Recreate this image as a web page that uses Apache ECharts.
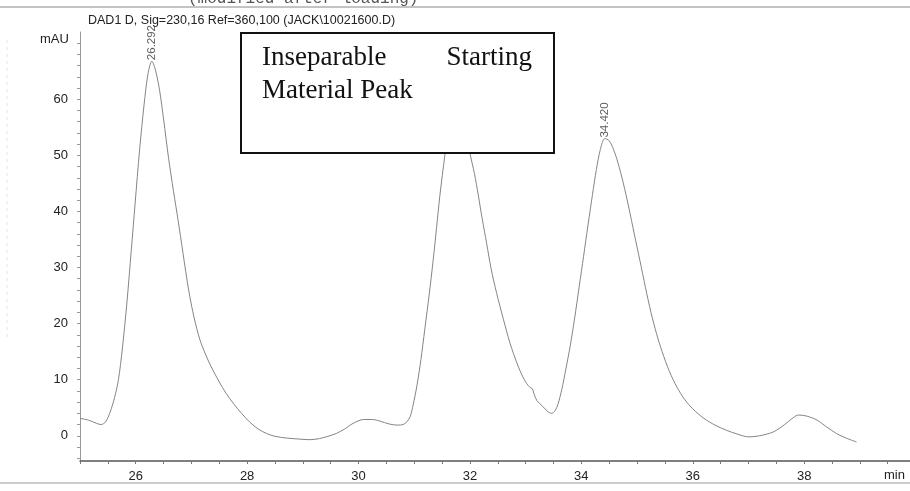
<!DOCTYPE html>
<html>
<head>
<meta charset="utf-8">
<title>DAD1 D chromatogram</title>
<script src="https://cdn.jsdelivr.net/npm/echarts@6/dist/echarts.min.js"></script>
<style>
  html, body { margin: 0; padding: 0; background: #fff; }
  #chart { width: 910px; height: 491px; }
</style>
</head>
<body>
<div id="chart"></div>
<script>
// retention time (min) and detector signal (mAU)
var times = [
  25.00, 25.15, 25.30, 25.38, 25.46, 25.54, 25.62, 25.69, 25.76, 25.84,
  25.92, 25.99, 26.07, 26.15, 26.22, 26.29, 26.36, 26.43, 26.50, 26.59,
  26.68, 26.76, 26.85, 26.95, 27.05, 27.15, 27.25, 27.35, 27.50, 27.62,
  27.75, 27.90, 28.05, 28.20, 28.35, 28.50, 28.70, 28.95, 29.13, 29.30,
  29.45, 29.60, 29.75, 29.90, 30.09, 30.25, 30.39, 30.55, 30.70, 30.80,
  30.87, 30.93, 30.98, 31.05, 31.12, 31.19, 31.27, 31.34, 31.40, 31.46,
  31.55, 31.62, 31.70, 31.77, 31.84, 31.92, 32.00, 32.08, 32.15, 32.22,
  32.30, 32.38, 32.48, 32.60, 32.72, 32.85, 32.95, 33.02, 33.08, 33.12,
  33.15, 33.20, 33.30, 33.40, 33.47, 33.53, 33.58, 33.65, 33.72, 33.80,
  33.88, 33.96, 34.04, 34.12, 34.20, 34.27, 34.34, 34.42, 34.50, 34.58,
  34.66, 34.75, 34.85, 34.95, 35.05, 35.15, 35.25, 35.35, 35.45, 35.58,
  35.72, 35.86, 36.00, 36.20, 36.40, 36.60, 36.80, 37.00, 37.20, 37.45,
  37.65, 37.80, 37.90, 38.05, 38.23, 38.40, 38.58, 38.75, 38.94
];
var signal = [
  3.1, 2.8, 2.2, 2.0, 2.5, 4.2, 6.8, 10.0, 15.5, 23.5,
  33.0, 41.5, 51.0, 59.0, 64.5, 66.8, 65.0, 61.5, 56.5, 49.5,
  43.5, 38.5, 32.5, 26.0, 21.0, 17.2, 14.6, 12.4, 9.6, 7.6,
  5.8, 4.0, 2.4, 1.2, 0.4, -0.1, -0.4, -0.6, -0.7, -0.5,
  -0.1, 0.4, 1.2, 2.2, 2.9, 2.9, 2.6, 2.1, 1.9, 2.0,
  2.5, 3.5, 5.5, 9.0, 13.6, 19.0, 25.3, 31.3, 37.0, 42.8,
  50.0, 55.0, 58.5, 60.0, 58.5, 55.0, 50.4, 46.8, 42.9, 38.7,
  34.3, 29.8, 25.4, 20.8, 16.5, 12.8, 10.5, 9.3, 8.6, 8.4,
  7.5, 6.3, 5.3, 4.3, 4.0, 4.5, 5.6, 8.3, 11.8, 16.0,
  21.0, 26.5, 32.0, 37.6, 43.0, 47.5, 51.0, 53.0, 52.6, 51.0,
  48.6, 45.2, 40.8, 36.0, 31.3, 26.5, 22.0, 18.2, 15.0, 11.5,
  8.6, 6.4, 4.8, 3.1, 1.9, 1.0, 0.3, -0.2, 0.0, 0.7,
  2.0, 3.2, 3.7, 3.5, 2.8, 1.6, 0.4, -0.4, -1.1
];

// labelled peaks (retention time, apex height)
var peakTimes = [26.292, 34.420];
var peakValues = [66.8, 53.0];

var yLabels = [0, 10, 20, 30, 40, 50, 60];
var yTicks = [-4, -2, 0, 2, 4, 6, 8, 10, 12, 14, 16, 18, 20, 22, 24, 26, 28, 30,
  32, 34, 36, 38, 40, 42, 44, 46, 48, 50, 52, 54, 56, 58, 60, 62, 64, 66, 68, 70];

var trace = times.map(function (t, i) { return [t, signal[i]]; });
var peaks = peakTimes.map(function (t, i) { return [t, peakValues[i]]; });

var chart = echarts.init(document.getElementById('chart'));
var font = '"Liberation Sans", Arial, sans-serif';
var serif = '"Liberation Serif", "Times New Roman", serif';

var option = {
  animation: false,
  backgroundColor: '#fff',
  title: {
    text: 'DAD1 D, Sig=230,16 Ref=360,100 (JACK\\10021600.D)',
    left: 83,
    top: 9,
    textStyle: { fontFamily: font, fontSize: 12.5, fontWeight: 'normal', color: '#222' }
  },
  grid: { left: 80, right: 0, top: 32, bottom: 30 },
  xAxis: {
    type: 'value',
    min: 25,
    max: 39.9,
    interval: 0.5,
    axisLine: { onZero: false, lineStyle: { color: '#555', width: 1.5 } },
    axisTick: { length: 3, lineStyle: { color: '#777' } },
    axisLabel: {
      margin: 9,
      fontFamily: font,
      fontSize: 13,
      color: '#222',
      showMaxLabel: false,
      formatter: function (v) { return v % 2 === 0 ? String(v) : ''; }
    },
    splitLine: { show: false }
  },
  yAxis: {
    type: 'value',
    min: -4.5,
    max: 72,
    axisLine: { show: true, lineStyle: { color: '#999', width: 1 } },
    axisTick: { show: true, length: 3, customValues: yTicks, lineStyle: { color: '#999' } },
    axisLabel: { margin: 12, fontFamily: font, fontSize: 13, color: '#222', customValues: yLabels },
    splitLine: { show: false }
  },
  series: [
    {
      type: 'line',
      data: trace,
      showSymbol: false,
      smooth: 0.3,
      lineStyle: { color: '#858585', width: 1 },
      z: 2
    },
    {
      type: 'scatter',
      data: peaks,
      symbolSize: 0,
      label: {
        show: true,
        position: 'top',
        distance: 1,
        rotate: 90,
        align: 'left',
        verticalAlign: 'middle',
        fontFamily: font,
        fontSize: 11.5,
        color: '#333',
        formatter: function (p) { return p.value[0].toFixed(3); }
      },
      z: 3
    }
  ],
  graphic: [
    { type: 'line', z: 1, shape: { x1: 0, y1: 7, x2: 910, y2: 7 }, style: { stroke: '#888', lineWidth: 1 } },
    { type: 'text', z: 5, left: 188, top: -9, style: { text: '(modified after loading)', font: '16px "Liberation Mono", monospace', fill: '#555' } },
    { type: 'line', z: 1, shape: { x1: 0, y1: 483, x2: 910, y2: 483 }, style: { stroke: '#999', lineWidth: 1 } },
    { type: 'line', z: 1, shape: { x1: 7, y1: 40, x2: 7, y2: 340 }, style: { stroke: '#e4e4e4', lineWidth: 1, lineDash: [3, 4] } },
    { type: 'text', z: 5, left: 40, top: 33, style: { text: 'mAU', font: '13px ' + font, fill: '#222' } },
    { type: 'text', z: 5, left: 884, top: 469, style: { text: 'min', font: '13px ' + font, fill: '#222' } },
    { type: 'rect', z: 100, shape: { x: 241, y: 33, width: 313, height: 120 }, style: { fill: '#fff', stroke: '#111', lineWidth: 2 } },
    { type: 'text', z: 101, left: 262, top: 44, style: { text: 'Inseparable', font: '27px ' + serif, fill: '#111' } },
    { type: 'text', z: 101, right: 910 - 532, top: 44, style: { text: 'Starting', font: '27px ' + serif, fill: '#111' } },
    { type: 'text', z: 101, left: 262, top: 77, style: { text: 'Material Peak', font: '27px ' + serif, fill: '#111' } }
  ]
};

chart.setOption(option);
</script>
</body>
</html>
